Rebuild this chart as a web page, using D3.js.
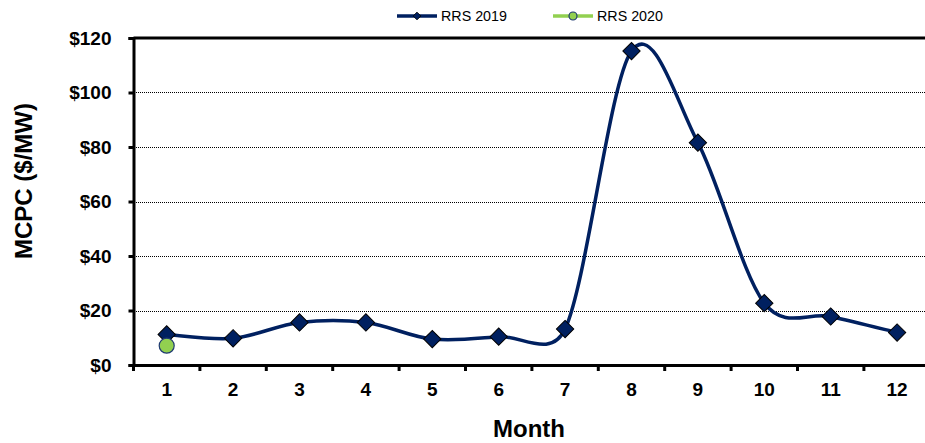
<!DOCTYPE html>
<html><head><meta charset="utf-8">
<script src="https://cdn.jsdelivr.net/npm/d3@7"></script>
<style>body{margin:0;background:#fff}svg{display:block;font-family:Arial,"Liberation Sans",sans-serif}</style>
</head><body><svg id="c" width="925" height="443"></svg>
<script>
const months = [1,2,3,4,5,6,7,8,9,10,11,12];
const rrs2019 = [11.2, 9.8, 15.6, 15.6, 9.5, 10.4, 13.2, 115.2, 81.6, 22.7, 17.8, 11.9];
const rrs2020 = [7.1];
const yTicks = [0,20,40,60,80,100,120];
const seriesNames = ["RRS 2019","RRS 2020"];

(function(){
const svg = d3.select("#c");
const mLeft = 133.5, mTop = 38, mBottom = 365, band = 66.4;
const x = d3.scaleBand().domain(months).range([mLeft, mLeft + band*12]).paddingInner(0).paddingOuter(0);
const y = d3.scaleLinear().domain([0,120]).range([mBottom, mTop]);
const cx = m => x(m) + x.bandwidth()/2;

// gridlines
svg.append("g").selectAll("line").data(yTicks.filter(t=>t>0 && t<120)).join("line")
  .attr("x1", mLeft).attr("x2", 925).attr("y1", d=>Math.round(y(d))+0.5).attr("y2", d=>Math.round(y(d))+0.5)
  .attr("stroke", "#000").attr("stroke-width", 1).attr("stroke-dasharray", "1,1")
  .attr("shape-rendering","crispEdges");
// top border line
svg.append("line").attr("x1", mLeft).attr("x2", 925).attr("y1", y(120)).attr("y2", y(120))
  .attr("stroke","#000").attr("stroke-width",3);

// y axis
const ya = svg.append("g").attr("transform", `translate(${mLeft},0)`)
  .call(d3.axisLeft(y).tickValues(yTicks).tickFormat(d=>"$"+d).tickSize(5).tickPadding(17));
ya.select(".domain").attr("stroke","#000").attr("stroke-width",3);
ya.selectAll(".tick line").attr("stroke","#000").attr("stroke-width",3);
ya.selectAll("text").attr("font-size",19).attr("font-weight","bold").attr("fill","#000")
  .attr("font-family","Arial, 'Liberation Sans', sans-serif");

// x axis
const xa = svg.append("g").attr("transform", `translate(0,${mBottom})`)
  .call(d3.axisBottom(x).tickSize(0).tickPadding(18));
xa.select(".domain").attr("stroke","#000").attr("stroke-width",3);
xa.selectAll("text").attr("font-size",19).attr("font-weight","bold").attr("fill","#000")
  .attr("font-family","Arial, 'Liberation Sans', sans-serif");
// category boundary ticks
svg.append("g").selectAll("line").data(months).join("line")
  .attr("x1", d=>x(d)).attr("x2", d=>x(d)).attr("y1", mBottom).attr("y2", mBottom+6)
  .attr("stroke","#000").attr("stroke-width",3);

// axis titles
svg.append("text").attr("x", 529).attr("y", 437).attr("text-anchor","middle")
  .attr("font-size",24).attr("font-weight","bold").text("Month");
svg.append("text").attr("transform","translate(32,181) rotate(-90)").attr("text-anchor","middle")
  .attr("font-size",24).attr("font-weight","bold").text("MCPC ($/MW)");

// Excel-style smoothed line (Bezier with limited control lengths)
function excelSmooth(pts){
  const p = d3.path();
  const dist = (a,b)=>Math.hypot(b[0]-a[0], b[1]-a[1]);
  p.moveTo(pts[0][0], pts[0][1]);
  for (let i=0;i<pts.length-1;i++){
    const p0 = pts[Math.max(i-1,0)], p1 = pts[i], p2 = pts[i+1], p3 = pts[Math.min(i+2, pts.length-1)];
    const d12 = dist(p1,p2), d02 = dist(p0,p2), d13 = dist(p1,p3);
    let f1 = 1/6, f2 = 1/6;
    if (d02/6 >= d12/2 && d02>0) f1 = d12/(2*d02);
    if (d13/6 >= d12/2 && d13>0) f2 = d12/(2*d13);
    const c1 = [p1[0] + (p2[0]-p0[0])*f1, p1[1] + (p2[1]-p0[1])*f1];
    const c2 = [p2[0] - (p3[0]-p1[0])*f2, p2[1] - (p3[1]-p1[1])*f2];
    p.bezierCurveTo(c1[0],c1[1],c2[0],c2[1],p2[0],p2[1]);
  }
  return p.toString();
}
const pts = rrs2019.map((d,i)=>[cx(months[i]), y(d)]);
svg.append("path").attr("d", excelSmooth(pts)).attr("fill","none")
  .attr("stroke","#002060").attr("stroke-width",3.5);

const diamond = d3.symbol().type(d3.symbolSquare).size(150);
svg.append("g").selectAll("path").data(rrs2019).join("path")
  .attr("d", diamond)
  .attr("transform", (d,i)=>`translate(${cx(months[i])},${y(d)}) rotate(45)`)
  .attr("fill","#002060").attr("stroke","#000").attr("stroke-width",1);

svg.append("g").selectAll("circle").data(rrs2020).join("circle")
  .attr("cx", (d,i)=>cx(months[i])).attr("cy", d=>y(d)).attr("r", 7.5)
  .attr("fill","#92D050").attr("stroke","#1F3A73").attr("stroke-width",1.2);

// legend
const lg = svg.append("g");
lg.append("line").attr("x1",397).attr("x2",437).attr("y1",16).attr("y2",16).attr("stroke","#002060").attr("stroke-width",3.5);
lg.append("path").attr("d", d3.symbol().type(d3.symbolSquare).size(30)).attr("transform","translate(417,16) rotate(45)")
  .attr("fill","#002060").attr("stroke","#000").attr("stroke-width",0.8);
lg.append("text").attr("x",441).attr("y",21).attr("font-size",14.3).text(seriesNames[0]);
lg.append("line").attr("x1",553).attr("x2",593).attr("y1",16).attr("y2",16).attr("stroke","#92D050").attr("stroke-width",3.5);
lg.append("circle").attr("cx",573).attr("cy",16).attr("r",4).attr("fill","#92D050").attr("stroke","#1F3A73").attr("stroke-width",1.2);
lg.append("text").attr("x",597).attr("y",21).attr("font-size",14.3).text(seriesNames[1]);
})();
</script></body></html>
